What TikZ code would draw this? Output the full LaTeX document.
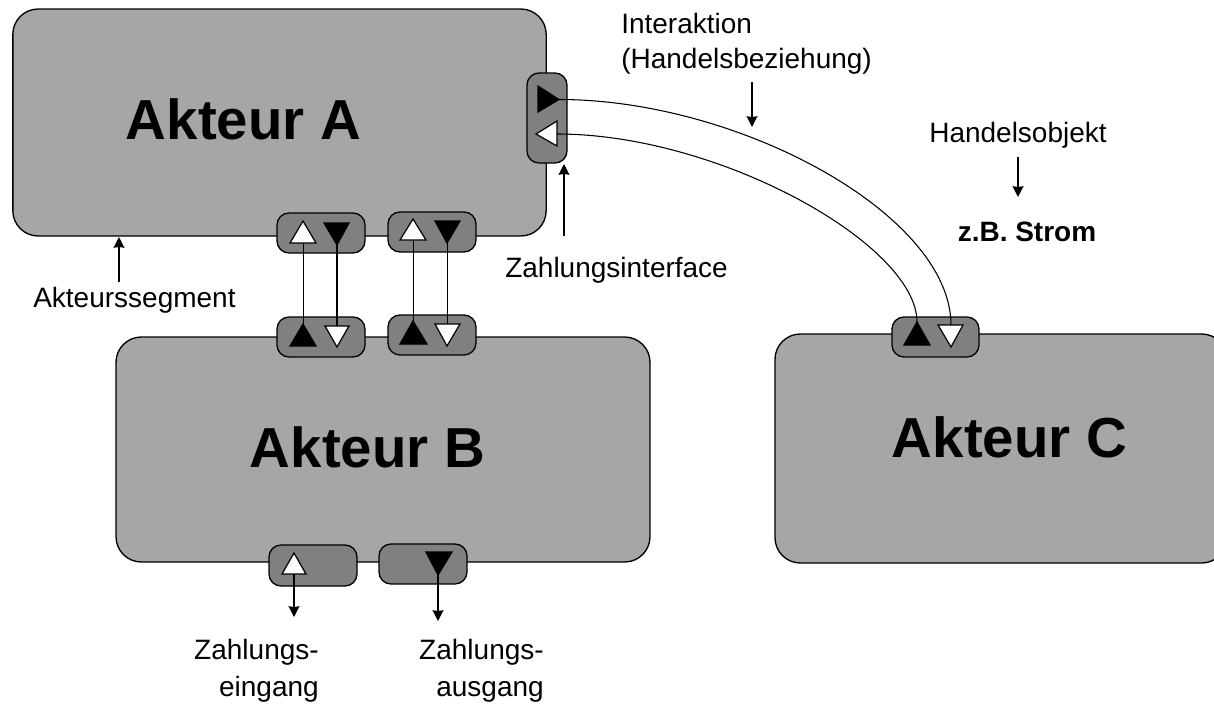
\documentclass[tikz,border=0pt]{standalone}
\usepackage{fontspec}
\setmainfont{Liberation Sans}
\usetikzlibrary{arrows.meta}
\definecolor{actorgray}{HTML}{A6A6A6}
\definecolor{ifacegray}{HTML}{808080}
\tikzset{
  actorbox/.style={draw=black,fill=actorgray,line width=1pt,rounded corners=19pt,inner sep=0pt},
  ifacebox/.style={draw=black,fill=ifacegray,line width=1pt,rounded corners=9pt,inner sep=0pt},
  title/.style={inner sep=0pt,font=\fontsize{42.3}{50}\selectfont\bfseries},
  label/.style={inner sep=0pt,font=\fontsize{21}{27.6}\selectfont},
  conn/.style={draw=black,line width=0.8pt},
  pointer/.style={draw=black,line width=1.3pt,-{Stealth[length=8pt,width=8pt,inset=0.5pt]}},
  tri/.style={draw=black,line width=0.9pt,miter limit=10},
  blacktri/.style={tri,fill=black},
  whitetri/.style={tri,fill=white}
}
\begin{document}
\begin{tikzpicture}[x=0.75pt,y=-0.75pt]
\useasboundingbox (0,0) rectangle (1214,704);
\fill[white] (0,0) rectangle (1214,704);
% actors
\node[actorbox,minimum width=400pt,minimum height=170.25pt] (A) at (279.5,122.5) {};
\node[actorbox,minimum width=400.5pt,minimum height=168.75pt] (B) at (383,449.5) {};
\begin{scope}
\clip (0,0) rectangle (1214,704);
\node[actorbox,minimum width=339pt,minimum height=171.75pt] (C) at (1001,448.5) {};
\end{scope}
\node[title] (tA) at (243.5,119) {Akteur A};
\node[title] (tB) at (367.5,447) {Akteur B};
\node[title] (tC) at (1009.5,437) {Akteur C};
% interfaces
\foreach \n/\cx/\cy/\w/\h in {i1/321/233/88/40,i2/432/232/88/40,i3/321/337/88/40,i4/432/335/88/40,i5/935.5/337/87/40,i6/547/118/40/90,i7/313/565.5/88/41,i8/423/564/88/40}
  \node[ifacebox,minimum width=0.75*\w pt,minimum height=0.75*\h pt] (\n) at (\cx,\cy) {};
% connector ends
\coordinate (a1) at (303.5,243); \coordinate (a2) at (303.5,324);
\coordinate (b1) at (337,245); \coordinate (b2) at (337,326);
\coordinate (c1) at (413.5,240); \coordinate (c2) at (413.5,321);
\coordinate (d1) at (447.5,243); \coordinate (d2) at (447.5,324);
\coordinate (e1) at (559,99.5); \coordinate (e2) at (951,325);
\coordinate (f1) at (557,134); \coordinate (f2) at (917,322);
\coordinate (g1) at (294,574); \coordinate (g2) at (294,617);
\coordinate (h1) at (438,575); \coordinate (h2) at (438,621);
\draw[conn] (a1) -- (a2);
\draw[conn] (b1) -- (b2);
\draw[conn] (c1) -- (c2);
\draw[conn] (d1) -- (d2);
\draw[conn] (e1) .. controls (740,99.5) and (951,215) .. (e2);
\draw[conn] (f1) .. controls (720,134) and (917,245) .. (f2);
% triangles
\draw[whitetri] (303,221) -- (316,243) -- (290,243) -- cycle;
\draw[blacktri] (324,223) -- (349,223) -- (337,245) -- cycle;
\draw[whitetri] (413,219) -- (426,240) -- (400,240) -- cycle;
\draw[blacktri] (435,221) -- (460,221) -- (447,243) -- cycle;
\draw[blacktri] (303,324) -- (316,346) -- (290,346) -- cycle;
\draw[whitetri] (325,326) -- (349,326) -- (337,347) -- cycle;
\draw[blacktri] (413,321) -- (427,344) -- (400,344) -- cycle;
\draw[whitetri] (435,324) -- (460,324) -- (447,346) -- cycle;
\draw[blacktri] (917,322) -- (930,345) -- (904,345) -- cycle;
\draw[whitetri] (938,325) -- (963,325) -- (951,347) -- cycle;
\draw[blacktri] (538,86) -- (559,99.5) -- (538,112) -- cycle;
\draw[whitetri] (536,134) -- (557,121) -- (557,146) -- cycle;
\draw[whitetri] (294,553) -- (306,574) -- (282,574) -- cycle;
\draw[blacktri] (426,552) -- (452,552) -- (438,575) -- cycle;
% output arrows
\draw[pointer] (g1) -- (g2);
\draw[pointer] (h1) -- (h2);
% labels
\node[label,anchor=west] (l1) at (621,23) {Interaktion};
\node[label,anchor=west] (l2) at (621,61) {(Handelsbeziehung)};
\node[label] (l3) at (1018,135) {Handelsobjekt};
\node[label,font=\fontsize{21}{27}\selectfont\bfseries] (l4) at (1027,232) {z.B. Strom};
\node[label,anchor=west] (l5) at (505,270) {Zahlungsinterface};
\node[label,anchor=west] (l6) at (33,300) {Akteurssegment};
\node[label,align=right,anchor=north east] (l7) at (319,639) {Zahlungs-\\eingang};
\node[label,align=right,anchor=north east] (l8) at (544,639) {Zahlungs-\\ausgang};
% pointers
\coordinate (p1s) at (752,82); \coordinate (p1e) at (752,127);
\coordinate (p2s) at (1018,157); \coordinate (p2e) at (1018,197);
\coordinate (p3s) at (119,282); \coordinate (p3e) at (119,237);
\coordinate (p4s) at (564,236); \coordinate (p4e) at (564,164);
\draw[pointer] (p1s) -- (p1e);
\draw[pointer] (p2s) -- (p2e);
\draw[pointer] (p3s) -- (p3e);
\draw[pointer] (p4s) -- (p4e);
\end{tikzpicture}
\end{document}
